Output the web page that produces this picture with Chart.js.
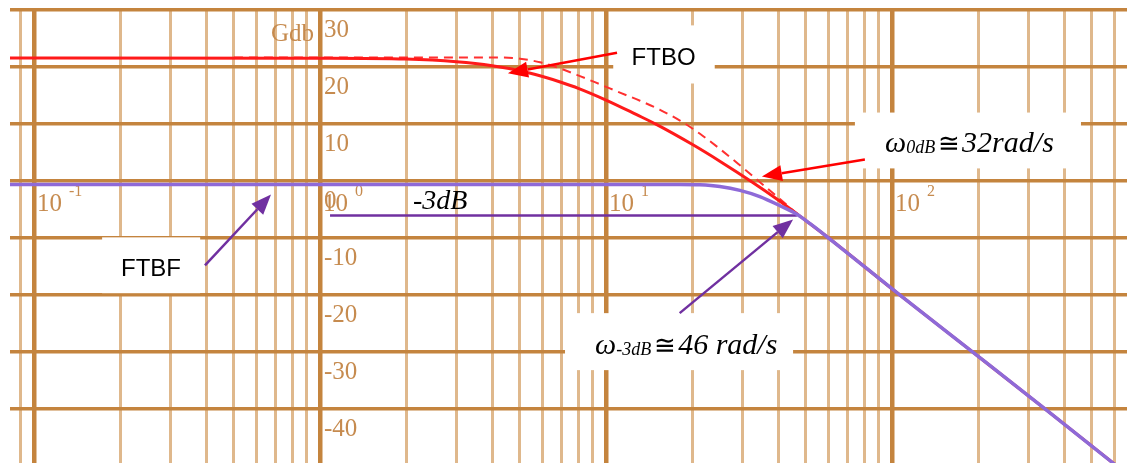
<!DOCTYPE html>
<html>
<head>
<meta charset="utf-8">
<script src="https://cdn.jsdelivr.net/npm/chart.js@4.4.1/dist/chart.umd.min.js"></script>
<style>
  html, body { margin: 0; padding: 0; background: #fff; }
  #wrap { width: 1127px; height: 463px; }
</style>
</head>
<body>
<div id="wrap"><canvas id="bode" width="1127" height="463"></canvas></div>
<script>
// pulsations (rad/s) and gains (dB)
let ftboW  = [0.0824, 1, 2, 3, 4, 5, 6, 7, 8, 10, 12.8, 15, 20, 25, 32.4, 40, 46.5, 51.7, 59.3, 106.4, 191.2, 342.8, 593, 700];
let ftboDb = [21.58, 21.54, 21.39, 20.91, 20.21, 19.33, 18.32, 17.28, 16.26, 14.2, 11.63, 9.93, 6.43, 3.47, -0.18, -3.34, -5.77, -7.5, -9.8, -20, -30, -40, -49.5, -52.4];

let asymW  = [0.5, 2, 4.26, 5.0, 5.88, 6.91, 8.11, 9.53, 11.19, 13.15, 15.45, 18.14, 21.31, 25.03, 29.41, 34.55, 40.58, 46.5];
let asymDb = [21.67, 21.67, 21.67, 21.46, 20.82, 19.74, 18.40, 16.96, 15.51, 14.07, 12.49, 10.60, 8.28, 5.61, 2.74, -0.21, -3.19, -5.74];

let ftbfW  = [0.0824, 1, 10, 18.1, 21.3, 25.0, 29.4, 34.5, 40.6, 46.5, 51.7, 59.3, 106.4, 191.2, 342.8, 593, 700];
let ftbfDb = [-0.61, -0.61, -0.61, -0.61, -0.68, -0.99, -1.66, -2.75, -4.35, -5.85, -7.5, -9.8, -20, -30, -40, -49.5, -52.4];

let cut3W  = [1.084, 46.5];
let cut3Db = [-6.05, -6.05];

let yTicks  = [30, 20, 10, 0, -10, -20, -30, -40];
let decades = [-1, 0, 1, 2];

let xMin = 0.0824, xMax = 663.5, yMin = -49.5, yMax = 30;

let brown = "#c4843e";
let brownLight = "#dfb88c";
let labelBrown = "#c68b4f";
let purpleDark = "#7030a0";

let xGrid = [];
for (let e = -2; e <= 2; e++) {
    for (let s = 1; s <= 9; s++) {
        let v = s * Math.pow(10, e);
        if (v >= xMin && v <= xMax) xGrid.push(v);
    }
}

function pts(ws, dbs) {
    return ws.map((w, i) => ({ x: w, y: dbs[i] }));
}

function isDecade(v) {
    let l = Math.log10(v);
    return Math.abs(l - Math.round(l)) < 1e-6;
}

function arrow(c, x1, y1, x2, y2, color, width) {
    let a = Math.atan2(y2 - y1, x2 - x1);
    let hl = 20, hw = 8;
    let bx = x2 - hl * Math.cos(a), by = y2 - hl * Math.sin(a);
    c.strokeStyle = color;
    c.fillStyle = color;
    c.lineWidth = width;
    c.beginPath();
    c.moveTo(x1, y1);
    c.lineTo(bx, by);
    c.stroke();
    c.beginPath();
    c.moveTo(x2, y2);
    c.lineTo(bx + hw * Math.sin(a), by - hw * Math.cos(a));
    c.lineTo(bx - hw * Math.sin(a), by + hw * Math.cos(a));
    c.closePath();
    c.fill();
}

// writes omega + subscript + "≅" + value, left to right
function omegaText(c, x, y, sub, val) {
    let big = 'italic 30px "Liberation Serif", "DejaVu Serif"';
    let small = 'italic 18px "Liberation Serif", "DejaVu Serif"';
    c.fillStyle = "#000";
    c.textAlign = "left";
    c.textBaseline = "alphabetic";
    c.font = big;
    c.fillText("ω", x, y);
    x += c.measureText("ω").width;
    c.font = small;
    c.fillText(sub, x, y + 1);
    x += c.measureText(sub).width + 3;
    c.font = '26px "DejaVu Serif"';
    c.fillText("≅", x, y);
    x += c.measureText("≅").width + 2;
    c.font = big;
    c.fillText(val, x, y);
}

const axisLabels = {
    id: "axisLabels",
    beforeDatasetsDraw(chart) {
        let c = chart.ctx, xs = chart.scales.x, ys = chart.scales.y;
        let x0 = xs.getPixelForValue(1);
        let y0 = ys.getPixelForValue(0);
        c.save();
        c.fillStyle = labelBrown;
        c.textBaseline = "alphabetic";
        c.font = '25px "Liberation Serif"';
        c.textAlign = "left";
        yTicks.forEach(v => {
            c.fillText(String(v), x0 + 4, ys.getPixelForValue(v) + 27);
        });
        decades.forEach(d => {
            let px = xs.getPixelForValue(Math.pow(10, d));
            c.font = '25px "Liberation Serif"';
            c.fillText("10", px + 3, y0 + 30);
            c.font = '16px "Liberation Serif"';
            c.fillText(String(d), px + 35, y0 + 15);
        });
        c.font = '25px "Liberation Serif"';
        c.textAlign = "right";
        c.fillText("Gdb", x0 - 6, ys.getPixelForValue(yMax) + 31);
        c.restore();
    }
};

const notes = {
    id: "notes",
    afterDatasetsDraw(chart) {
        let c = chart.ctx, xs = chart.scales.x, ys = chart.scales.y;
        let X = v => xs.getPixelForValue(v), Y = v => ys.getPixelForValue(v);
        c.save();

        // white boxes
        c.fillStyle = "#fff";
        [[10.6, 24.0, 27.3, 17.1], [74.2, 458, 12.0, 2.2], [0.173, 0.381, -9.9, -19.7], [7.19, 45.1, -23.2, -33.2]]
            .forEach(b => {
                c.fillRect(X(b[0]), Y(b[2]), X(b[1]) - X(b[0]), Y(b[3]) - Y(b[2]));
            });

        // FTBO / FTBF
        c.fillStyle = "#000";
        c.font = '24px "Liberation Sans"';
        c.textAlign = "center";
        c.textBaseline = "alphabetic";
        c.fillText("FTBO", X(15.9), Y(20.3));
        c.fillText("FTBF", X(0.2565), Y(-16.6));

        arrow(c, X(10.93), Y(22.5), X(4.54), Y(18.9), "#ff0000", 2.5);
        arrow(c, X(80.4), Y(3.77), X(35.1), Y(0.79), "#ff0000", 2.5);
        arrow(c, X(0.396), Y(-14.8), X(0.674), Y(-2.4), purpleDark, 2.5);
        arrow(c, X(18.1), Y(-23.2), X(45.1), Y(-6.75), purpleDark, 2.5);

        omegaText(c, X(94.5), Y(5.0), "0dB", "32rad/s");
        omegaText(c, X(9.15), Y(-30.3), "-3dB", "46 rad/s");

        c.fillStyle = "#000";
        c.textAlign = "left";
        c.font = 'italic 28px "Liberation Serif"';
        c.fillText("-3dB", X(2.114), Y(-5.0));
        c.restore();
    }
};

let chart = new Chart(document.getElementById("bode"), {
    type: "line",
    data: {
        datasets: [
            {
                label: "FTBF",
                data: pts(ftbfW, ftbfDb),
                borderColor: "#8e6ad8",
                borderWidth: 3.5,
                pointRadius: 0,
                cubicInterpolationMode: "monotone"
            },
            {
                label: "-3dB",
                data: pts(cut3W, cut3Db),
                borderColor: purpleDark,
                borderWidth: 2.5,
                pointRadius: 0
            },
            {
                label: "FTBO",
                data: pts(ftboW, ftboDb),
                borderColor: "#ff1a1a",
                borderWidth: 3,
                pointRadius: 0,
                cubicInterpolationMode: "monotone"
            },
            {
                label: "FTBO (dashed)",
                data: pts(asymW, asymDb),
                borderColor: "#ff3030",
                borderWidth: 2,
                borderDash: [9, 6],
                pointRadius: 0,
                cubicInterpolationMode: "monotone"
            }
        ]
    },
    options: {
        responsive: false,
        animation: false,
        layout: { padding: { top: 10, left: 10, right: 0, bottom: 0 } },
        plugins: {
            legend: { display: false },
            tooltip: { enabled: false }
        },
        scales: {
            x: {
                type: "logarithmic",
                min: xMin,
                max: xMax,
                afterBuildTicks: s => { s.ticks = xGrid.map(v => ({ value: v })); },
                ticks: { display: false },
                border: { display: false },
                grid: {
                    drawTicks: false,
                    color: c => isDecade(c.tick.value) ? brown : brownLight,
                    lineWidth: c => isDecade(c.tick.value) ? 4.5 : 3
                }
            },
            y: {
                type: "linear",
                min: yMin,
                max: yMax,
                afterBuildTicks: s => { s.ticks = yTicks.map(v => ({ value: v })); },
                ticks: { display: false },
                border: { display: false },
                grid: {
                    drawTicks: false,
                    color: brown,
                    lineWidth: 3.5
                }
            }
        }
    },
    plugins: [axisLabels, notes]
});
</script>
</body>
</html>
